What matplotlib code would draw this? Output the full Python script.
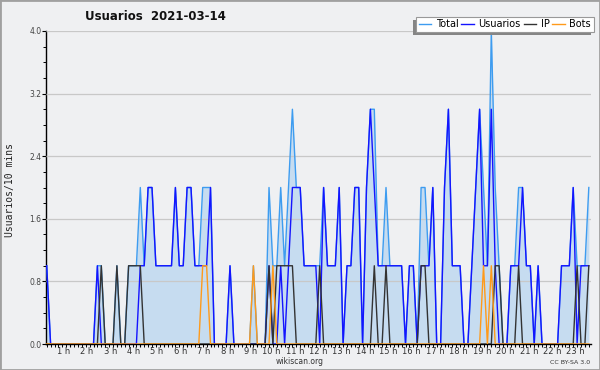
import matplotlib
matplotlib.use('Agg')
import matplotlib.pyplot as plt
import numpy as np
from matplotlib.lines import Line2D
from matplotlib.patches import Rectangle
from matplotlib.transforms import IdentityTransform
from matplotlib.ticker import FixedLocator, MultipleLocator

# 10-minute slots of the day (0:00 ... 23:10)
total = [1,0,0,0,0,0,0,0,0,0, 0,0,0,1,1,0,0,0,1,0,
         0,1,1,1,2,1,2,2,1,1, 1,1,1,2,1,1,2,2,1,1,
         2,2,2,0,0,0,0,1,0,0, 0,0,0,1,0,0,0,2,1,1,
         2,1,2,3,2,2,1,1,1,1, 1,2,1,1,1,2,0,1,1,2,
         2,0,2,3,3,1,1,2,1,1, 1,1,0,1,1,0,2,2,1,2,
         0,0,2,3,1,1,1,0,0,1, 2,3,2,1,4,2,1,0,0,1,
         1,2,2,1,1,0,1,0,0,0, 0,0,1,1,1,2,1,1,1,2]
usuarios = [1,0,0,0,0,0,0,0,0,0, 0,0,0,1,0,0,0,0,0,0,
            0,0,0,0,1,1,2,2,1,1, 1,1,1,2,1,1,2,2,1,1,
            1,1,2,0,0,0,0,1,0,0, 0,0,0,0,0,0,0,1,0,0,
            1,0,1,2,2,2,1,1,1,1, 0,2,1,1,1,2,0,1,1,2,
            2,0,2,3,2,1,1,1,1,1, 1,1,0,1,1,0,1,1,1,2,
            0,0,2,3,1,1,1,0,0,1, 2,3,1,1,3,1,0,0,0,1,
            1,1,2,1,1,0,1,0,0,0, 0,0,1,1,1,2,0,1,1,1]
ip = [0,0,0,0,0,0,0,0,0,0, 0,0,0,0,1,0,0,0,1,0,
      0,1,1,1,1,0,0,0,0,0, 0,0,0,0,0,0,0,0,0,0,
      0,0,0,0,0,0,0,0,0,0, 0,0,0,0,0,0,0,1,0,1,
      1,1,1,1,0,0,0,0,0,0, 1,0,0,0,0,0,0,0,0,0,
      0,0,0,0,1,0,0,1,0,0, 0,0,0,0,0,0,1,1,0,0,
      0,0,0,0,0,0,0,0,0,0, 0,0,0,0,0,1,1,0,0,0,
      0,1,0,0,0,0,0,0,0,0, 0,0,0,0,0,0,1,0,0,1]
bots = [0,0,0,0,0,0,0,0,0,0, 0,0,0,0,0,0,0,0,0,0,
        0,0,0,0,0,0,0,0,0,0, 0,0,0,0,0,0,0,0,0,0,
        1,1,0,0,0,0,0,0,0,0, 0,0,0,1,0,0,0,0,1,0,
        0,0,0,0,0,0,0,0,0,0, 0,0,0,0,0,0,0,0,0,0,
        0,0,0,0,0,0,0,0,0,0, 0,0,0,0,0,0,0,0,0,0,
        0,0,0,0,0,0,0,0,0,0, 0,0,1,0,1,0,0,0,0,0,
        0,0,0,0,0,0,0,0,0,0, 0,0,0,0,0,0,0,0,0,0]
hours = list(range(1, 24))
hour_labels = [f"{h} h" for h in hours]
y_ticks = [0.0, 0.8, 1.6, 2.4, 3.2, 4.0]
series_names = ["Total", "Usuarios", "IP", "Bots"]

bg = '#eff0f2'
c_total = '#3d9cf0'
c_fill = '#c6dcf0'
c_user = '#1414ff'
c_ip = '#333333'
c_bots = '#ff9a1a'

fig = plt.figure(figsize=(6, 3.7), dpi=100)
fig.patch.set_facecolor(bg)
ax = fig.add_axes([46/600, 26/370, 545/600, 313/370])
ax.set_facecolor(bg)

x = np.arange(len(total))
ax.fill_between(x, 0, total, color=c_fill, lw=0, zorder=1)
ax.plot(x, total, color=c_total, lw=1.0, zorder=3)
ax.plot(x, usuarios, color=c_user, lw=1.0, zorder=4)
ax.plot(x, ip, color=c_ip, lw=1.0, zorder=5)
ax.plot(x, bots, color=c_bots, lw=1.0, zorder=6)

ax.set_xlim(-0.18, 139.56)
ax.set_ylim(0, 4)

ax.set_yticks(y_ticks)
ax.set_yticklabels([f"{v:.1f}" for v in y_ticks])
ax.yaxis.set_minor_locator(MultipleLocator(0.2))
ax.set_xticks([6*h for h in hours])
ax.set_xticklabels(hour_labels)
for lab in ax.get_xticklabels():
    lab.set_ha('right')
ax.xaxis.set_minor_locator(FixedLocator(list(range(len(total)))))

ax.grid(axis='y', which='major', color='#c8c8c8', lw=0.9, zorder=2)
ax.set_axisbelow(False)
for s in ['top', 'right']:
    ax.spines[s].set_visible(False)
for s in ['left', 'bottom']:
    ax.spines[s].set_linewidth(1.0)
    ax.spines[s].set_color('black')
ax.tick_params(axis='x', which='major', direction='out', length=2.2, width=0.8,
               labelsize=6, labelcolor='#333333', pad=0.3)
ax.tick_params(axis='x', which='minor', direction='out', length=2.2, width=0.7)
ax.tick_params(axis='y', which='major', direction='out', length=2.6, width=0.8,
               labelsize=5.5, labelcolor='#444444', pad=0.8)
ax.tick_params(axis='y', which='minor', direction='out', length=2.2, width=0.7)

fig.text(10/600, (370-190)/370, "Usuarios/10 mins", rotation=90,
         family='DejaVu Sans Mono', fontsize=7, ha='center', va='center', color='#222222')
fig.text(85/600, (370-16)/370, "Usuarios  2021-03-14", fontsize=8.5,
         weight='bold', ha='left', va='center', color='#111111')
fig.text(0.5, 8/370, "wikiscan.org", fontsize=5.5, ha='center', va='center', color='#333333')
fig.text(590/600, 8/370, "CC BY-SA 3.0", fontsize=4.5, ha='right', va='center', color='#333333')

handles = [Line2D([], [], color=c, lw=1.0) for c in [c_total, c_user, c_ip, c_bots]]
leg = fig.legend(handles, series_names, loc='upper right',
                 bbox_to_anchor=(593.5/600, (370-17)/370), ncol=4, fontsize=7,
                 frameon=True, fancybox=False, handlelength=1.3, handletextpad=0.45,
                 columnspacing=0.3, borderpad=0.25, borderaxespad=0)
leg.get_frame().set_edgecolor('#999999')
leg.get_frame().set_facecolor('white')
leg.get_frame().set_linewidth(0.8)
leg.get_frame().set_alpha(1)
leg.set_zorder(5)

fig.canvas.draw()
bb = leg.get_window_extent()
fig.add_artist(Rectangle((bb.x0 - 3, bb.y0 - 3), bb.width, bb.height,
                         transform=IdentityTransform(), facecolor='#858585',
                         edgecolor='none', zorder=4.9))
fig.add_artist(Rectangle((0, 0), 1, 1, transform=fig.transFigure, fill=False,
                         edgecolor='#a0a0a0', lw=2, zorder=10))

fig.savefig('out.png', dpi=100, facecolor=bg)
